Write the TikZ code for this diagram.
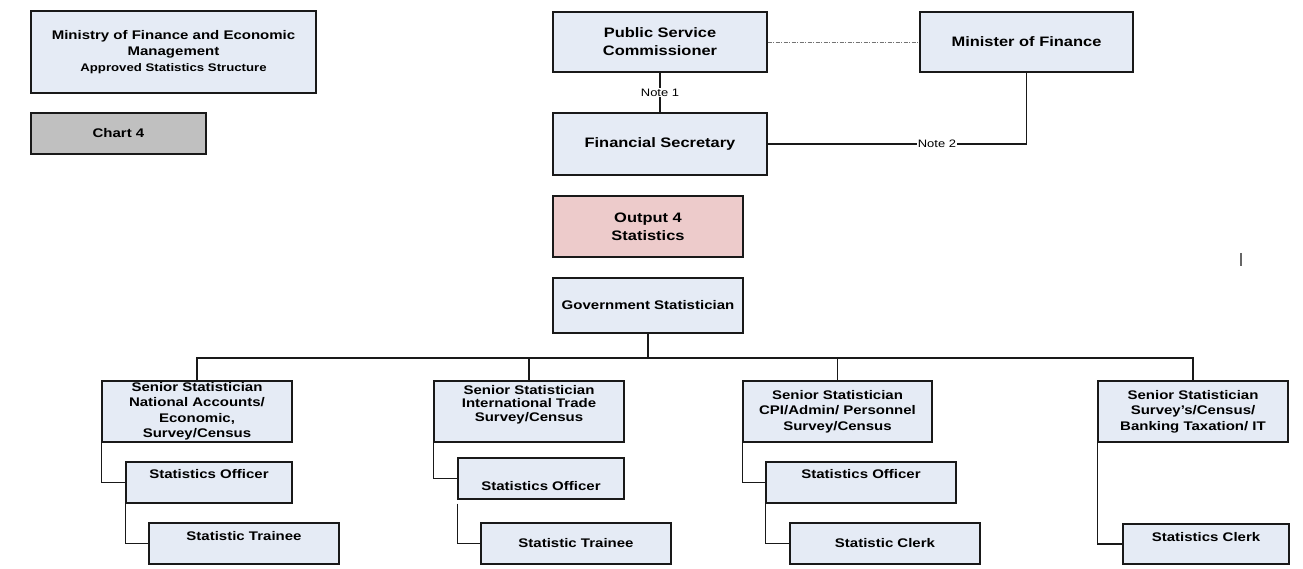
\documentclass[tikz,border=0pt]{standalone}
\usepackage{fontspec}
\setmainfont{Liberation Sans}[FakeStretch=1.2]
\definecolor{boxblue}{HTML}{E5EBF5}
\definecolor{boxpink}{HTML}{EDCBCB}
\definecolor{boxgrey}{HTML}{C0C0C0}
\begin{document}
\begin{tikzpicture}[x=1pt,y=-1pt,
  box/.style={draw=black!90, line width=1.2pt, fill=boxblue, inner sep=0pt,
    align=center, font=\bfseries\fontsize{12.5}{15.5}\selectfont},
  topbox/.style={box, font=\bfseries\fontsize{13.7}{18}\selectfont},
  sz/.style 2 args={minimum width=#1pt, minimum height=#2pt},
  txt/.style={inner sep=0pt, align=center, font=\bfseries\fontsize{12.5}{13.5}\selectfont},
  conn/.style={draw=black!90, line width=1.2pt},
  lbl/.style={fill=white, inner sep=1pt, font=\fontsize{10.8}{13}\selectfont}
]
\useasboundingbox (0,0) rectangle (1303,569);

% title and chart tag
\node[box, sz={285}{82}, font=\bfseries\fontsize{12.5}{16}\selectfont] (ministry) at (173.5,52)
  {Ministry of Finance and Economic\\Management\\{\fontsize{11}{16}\selectfont Approved Statistics Structure}};
\node[box, sz={175}{41}, fill=boxgrey] (chart) at (118.5,133.5) {Chart 4};

% top of the hierarchy
\node[topbox, sz={214}{60}] (psc) at (660,42) {Public Service\\Commissioner};
\node[topbox, sz={213}{60}] (minister) at (1026.5,42) {Minister of Finance};
\node[topbox, sz={214}{62}] (finsec) at (660,144) {Financial Secretary};
\node[topbox, sz={190}{61}, fill=boxpink] (output) at (648,226.5) {Output 4\\Statistics};
\node[box, sz={190}{55}] (gov) at (648,305.5) {Government Statistician};

% senior statisticians
\node[box, sz={190}{61}] (s1) at (197,411.5)
  {Senior Statistician\\National Accounts/\\Economic,\\Survey/Census};
\node[box, sz={190}{61}] (s2) at (529,411.5) {};
\node[txt] (s2text) at ([yshift=7pt]s2.center)
  {Senior Statistician\\International Trade\\Survey/Census};
\node[box, sz={189}{61}] (s3) at (837.5,411.5)
  {Senior Statistician\\CPI/Admin/ Personnel\\Survey/Census};
\node[box, sz={190}{61}] (s4) at (1193,411.5)
  {Senior Statistician\\Survey’s/Census/\\Banking Taxation/ IT};

% officers, trainees and clerks
\node[box, sz={166}{41}, text height=16.5pt, text depth=24.5pt] (o1) at (209,482.5) {Statistics Officer};
\node[box, sz={190}{41}, text height=17.5pt, text depth=23.5pt] (t1) at (244,543.5) {Statistic Trainee};
\node[box, sz={166}{41}, text height=32.5pt, text depth=8.5pt] (o2) at (541,478.5) {Statistics Officer};
\node[box, sz={190}{41}] (t2) at (576,543.5) {Statistic Trainee};
\node[box, sz={190}{41}, text height=16.5pt, text depth=24.5pt] (o3) at (861,482.5) {Statistics Officer};
\node[box, sz={190}{41}] (c3) at (885,543.5) {Statistic Clerk};
\node[box, sz={166}{40}, text height=17.5pt, text depth=22.5pt] (c4) at (1206,544) {Statistics Clerk};

% reporting lines at the top
\draw[conn] (psc.south) -- (finsec.north) node[midway, lbl] {Note 1};
\draw[conn] (finsec.east) -| (minister.south) node[pos=0.327, lbl] {Note 2};
\draw[draw=black!55, line width=0.8pt, dash pattern=on 4pt off 1.5pt on 1pt off 1.5pt]
  (psc.east) -- (minister.west);

% branch bar under the Government Statistician
\coordinate (bar) at (648,358);
\draw[conn] (gov.south) -- (bar);
\draw[conn] (s1.north) |- (bar) -| (s4.north);
\draw[conn] (s2.north) -- (s2.north |- bar);
\draw[conn] (s3.north) -- (s3.north |- bar);

% staff under each senior statistician
\draw[conn] (s1.south west) |- (o1.west);
\draw[conn] (o1.south west) |- (t1.west);
\draw[conn] (s2.south west) |- (o2.west);
\draw[conn] ([yshift=-4pt]o2.south west) |- (t2.west);
\draw[conn] (s3.south west) |- (o3.west);
\draw[conn] (o3.south west) |- (c3.west);
\draw[conn] (s4.south west) |- (c4.west);

% small stray tick on the right
\coordinate (tickTop) at (1241,253);
\coordinate (tickBot) at (1241,266);
\draw[draw=black!60, line width=1.2pt] (tickTop) -- (tickBot);
\end{tikzpicture}
\end{document}
